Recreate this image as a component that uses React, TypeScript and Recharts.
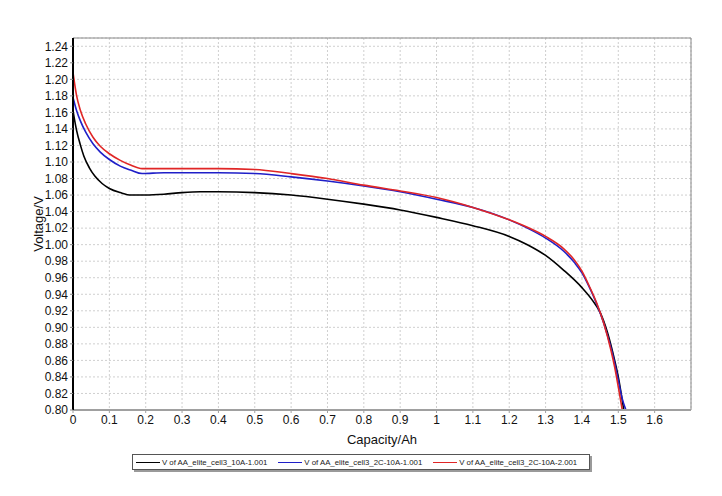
import { LineChart, Line, XAxis, YAxis, CartesianGrid, ReferenceArea } from "recharts";

const xTicks = [0, 0.1, 0.2, 0.3, 0.4, 0.5, 0.6, 0.7, 0.8, 0.9, 1, 1.1, 1.2, 1.3, 1.4, 1.5, 1.6];
const yTicks = [
  0.8, 0.82, 0.84, 0.86, 0.88, 0.9, 0.92, 0.94, 0.96, 0.98, 1.0, 1.02, 1.04, 1.06, 1.08, 1.1, 1.12,
  1.14, 1.16, 1.18, 1.2, 1.22, 1.24,
];

// cell3 10A-1
const cap10A1 = [
  0, 0.01, 0.02, 0.03, 0.045, 0.06, 0.08, 0.1, 0.13, 0.16, 0.2, 0.25, 0.3, 0.35, 0.4, 0.5, 0.6,
  0.7, 0.8, 0.9, 1.0, 1.1, 1.2, 1.25, 1.3, 1.35, 1.4, 1.43, 1.45, 1.47, 1.49, 1.5, 1.515,
];
const volt10A1 = [
  1.162, 1.138, 1.121, 1.107, 1.093, 1.083, 1.074, 1.068, 1.063, 1.06, 1.06, 1.061, 1.063, 1.064,
  1.064, 1.063, 1.06, 1.055, 1.049, 1.042, 1.033, 1.023, 1.01, 1.0, 0.987, 0.969, 0.948, 0.932,
  0.918, 0.894, 0.86, 0.84, 0.8,
];

// cell3 2C-10A-1
const cap2C1 = [
  0, 0.01, 0.02, 0.035, 0.055, 0.075, 0.1, 0.13, 0.16, 0.19, 0.25, 0.3, 0.4, 0.5, 0.6, 0.7, 0.8,
  0.9, 1.0, 1.1, 1.2, 1.25, 1.3, 1.35, 1.38, 1.4, 1.42, 1.44, 1.46, 1.48, 1.49, 1.5, 1.51, 1.521,
];
const volt2C1 = [
  1.178, 1.162, 1.15, 1.136, 1.122, 1.112, 1.103, 1.095, 1.09, 1.086, 1.087, 1.087, 1.087, 1.086,
  1.082, 1.077, 1.071, 1.064, 1.055, 1.045, 1.03, 1.02, 1.008, 0.992, 0.978, 0.966, 0.949, 0.929,
  0.905, 0.875, 0.857, 0.836, 0.815, 0.8,
];

// cell3 2C-10A-2
const cap2C2 = [
  0, 0.01, 0.02, 0.035, 0.055, 0.075, 0.1, 0.13, 0.16, 0.19, 0.25, 0.3, 0.4, 0.5, 0.6, 0.7, 0.8,
  0.9, 1.0, 1.1, 1.2, 1.25, 1.3, 1.35, 1.38, 1.4, 1.42, 1.44, 1.46, 1.48, 1.49, 1.5, 1.511,
];
const volt2C2 = [
  1.208, 1.18, 1.163, 1.146, 1.13, 1.119, 1.11, 1.102, 1.096, 1.092, 1.092, 1.092, 1.092, 1.091,
  1.086, 1.08, 1.072, 1.065, 1.057, 1.045, 1.03, 1.021, 1.01, 0.995, 0.981, 0.968, 0.95, 0.93,
  0.905, 0.872, 0.852, 0.828, 0.8,
];

const toRows = (caps: number[], volts: number[]) => caps.map((c, i) => ({ cap: c, v: volts[i] }));

const series = [
  { name: "V of AA_elite_cell3_10A-1.001", color: "#000000", rows: toRows(cap10A1, volt10A1) },
  { name: "V of AA_elite_cell3_2C-10A-1.001", color: "#1f1fc8", rows: toRows(cap2C1, volt2C1) },
  { name: "V of AA_elite_cell3_2C-10A-2.001", color: "#e02626", rows: toRows(cap2C2, volt2C2) },
];

const font = "'Liberation Sans', Arial, sans-serif";

export default function App() {
  return (
    <div style={{ position: "absolute", left: 0, top: 0, width: 722, height: 496, background: "#fff", fontFamily: font }}>
      <LineChart width={722} height={496} margin={{ top: 38, right: 31, bottom: 52, left: 0 }}>
        <CartesianGrid stroke="#cfcfcf" strokeDasharray="2 2" />
        <ReferenceArea x1={0} x2={1.7} y1={0.8} y2={1.25} fill="none" stroke="#8a8a8a" strokeWidth={1} />
        <XAxis
          dataKey="cap"
          type="number"
          domain={[0, 1.7]}
          ticks={xTicks}
          interval={0}
          allowDataOverflow
          height={34}
          axisLine={{ stroke: "#a0a0a0", strokeWidth: 2 }}
          tickLine={{ stroke: "#a0a0a0" }}
          tickSize={3}
          tick={{ fill: "#111", fontSize: 12, fontFamily: font }}
          label={{ value: "Capacity/Ah", position: "insideBottom", offset: 0, fill: "#111", fontSize: 13, fontFamily: font }}
        />
        <YAxis
          type="number"
          domain={[0.8, 1.25]}
          ticks={yTicks}
          interval={0}
          allowDataOverflow
          width={73}
          axisLine={{ stroke: "#000", strokeWidth: 2 }}
          tickLine={{ stroke: "#888" }}
          tickSize={3}
          tickFormatter={(v: number) => v.toFixed(2)}
          tick={{ fill: "#111", fontSize: 12, fontFamily: font }}
          label={{ value: "Voltage/V", angle: -90, position: "center", dx: 2, fill: "#111", fontSize: 13, fontFamily: font }}
        />
        {series.map((s) => (
          <Line
            key={s.name}
            data={s.rows}
            dataKey="v"
            name={s.name}
            type="monotone"
            stroke={s.color}
            strokeWidth={1.6}
            dot={false}
            isAnimationActive={false}
          />
        ))}
      </LineChart>
      <div
        style={{
          position: "absolute",
          left: 132,
          top: 454,
          width: 456,
          height: 14,
          border: "1px solid #555",
          boxShadow: "2px 2px 0 #9a9a9a",
          display: "flex",
          alignItems: "center",
          fontSize: 7.8,
          color: "#222",
          background: "#fff",
          whiteSpace: "nowrap",
          overflow: "hidden",
        }}
      >
        {series.map((s, i) => (
          <div key={s.name} style={{ display: "flex", alignItems: "center", flexShrink: 0, marginLeft: i === 0 ? 3 : 11 }}>
            <span style={{ display: "inline-block", width: 24, height: 0, borderTop: `1.5px solid ${s.color}`, marginRight: 2 }} />
            <span>{s.name}</span>
          </div>
        ))}
      </div>
    </div>
  );
}
